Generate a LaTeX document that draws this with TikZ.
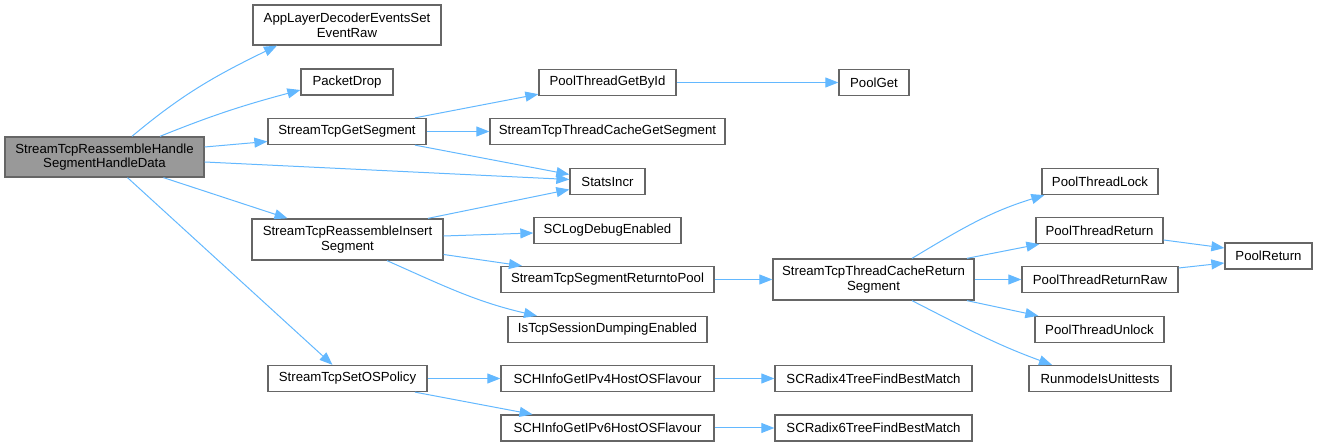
\documentclass[tikz,border=0pt]{standalone}
\usepackage{fontspec}
\setmainfont{Liberation Sans}
\usetikzlibrary{arrows.meta}
\definecolor{edgeblue}{HTML}{63B8FF}
\definecolor{boxgray}{HTML}{666666}
\definecolor{mainfill}{HTML}{999999}
\begin{document}
\begin{tikzpicture}[x=1pt,y=1pt]
        \tikzstyle{fn}=[rectangle, draw=boxgray, line width=1.3pt, fill=white, inner sep=0pt, minimum height=26pt, align=center, font=\fontsize{13.2}{14.8}\selectfont]
        \tikzstyle{call}=[draw=edgeblue, line width=1pt, -{Triangle[length=13pt,width=10pt]}]
        \useasboundingbox (0,0) rectangle (1317,446);

        \node[fn, fill=mainfill, minimum width=199pt, minimum height=40pt] (main) at (104.5,289) {StreamTcpReassembleHandle\\SegmentHandleData};

        \node[fn, minimum width=188pt, minimum height=40pt] (appl) at (347,421) {AppLayerDecoderEventsSet\\EventRaw};
        \node[fn, minimum width=92pt]  (pdrop)  at (347,364)   {PacketDrop};
        \node[fn, minimum width=158pt] (getseg) at (347,314.5) {StreamTcpGetSegment};
        \node[fn, minimum width=191pt, minimum height=41pt] (insseg) at (347.5,206.5) {StreamTcpReassembleInsert\\Segment};
        \node[fn, minimum width=159pt] (setos)  at (347.5,67.5) {StreamTcpSetOSPolicy};

        \node[fn, minimum width=137pt] (pgetbyid) at (607.5,363.5) {PoolThreadGetById};
        \node[fn, minimum width=235pt] (tcgetseg) at (607.5,314.5) {StreamTcpThreadCacheGetSegment};
        \node[fn, minimum width=75pt]  (stats)    at (607.5,264.5) {StatsIncr};
        \node[fn, minimum width=147pt] (sclog)    at (607.5,215.5) {SCLogDebugEnabled};
        \node[fn, minimum width=213pt] (retpool)  at (607.5,166.5) {StreamTcpSegmentReturntoPool};
        \node[fn, minimum width=199pt] (dump)     at (607.5,116.5) {IsTcpSessionDumpingEnabled};
        \node[fn, minimum width=213pt] (ipv4)     at (607.5,67.5)  {SCHInfoGetIPv4HostOSFlavour};
        \node[fn, minimum width=213pt] (ipv6)     at (607.5,18)    {SCHInfoGetIPv6HostOSFlavour};

        \node[fn, minimum width=70pt]  (poolget) at (874,363.5) {PoolGet};
        \node[fn, minimum width=201pt, minimum height=41pt] (tcret) at (873.5,166.5) {StreamTcpThreadCacheReturn\\Segment};
        \node[fn, minimum width=197pt] (radix4)  at (873.5,67.5) {SCRadix4TreeFindBestMatch};
        \node[fn, minimum width=197pt] (radix6)  at (873.5,18)   {SCRadix6TreeFindBestMatch};

        \node[fn, minimum width=116pt] (lock)   at (1100,264.5)   {PoolThreadLock};
        \node[fn, minimum width=127pt] (tret)   at (1099.5,215.5) {PoolThreadReturn};
        \node[fn, minimum width=156pt] (traw)   at (1100,166.5)   {PoolThreadReturnRaw};
        \node[fn, minimum width=129pt] (unlock) at (1099.5,116.5) {PoolThreadUnlock};
        \node[fn, minimum width=142pt] (unit)   at (1100,67.5)    {RunmodeIsUnittests};

        \node[fn, minimum width=87pt] (poolret) at (1268.5,190) {PoolReturn};

        % calls from the main function
        \draw[call] ([xshift=27.5]main.north) to[out=40,in=206] ([xshift=-70]appl.south);
        \draw[call] ([xshift=55.5]main.north) to[out=22,in=195] ([yshift=-8]pdrop.west);
        \draw[call] ([yshift=10]main.east) -- ([yshift=-10]getseg.west);
        \draw[call] ([yshift=-5]main.east) -- ([yshift=2]stats.west);
        \draw[call] ([xshift=59]main.south) -- ([xshift=-60]insseg.north);
        \draw[call] ([xshift=23]main.south) -- ([xshift=-15]setos.north);

        \draw[call] ([xshift=68]getseg.north) -- ([yshift=2]pgetbyid.south west);
        \draw[call] (getseg.east) -- (tcgetseg.west);
        \draw[call] ([xshift=68]getseg.south) -- ([yshift=7]stats.west);
        \draw[call] ([xshift=80.5]insseg.north) -- ([yshift=-8]stats.west);
        \draw[call] ([yshift=3.5]insseg.east) -- ([yshift=-2.5]sclog.west);
        \draw[call] ([yshift=-15]insseg.east) -- ([xshift=-85.5]retpool.north);
        \draw[call] ([xshift=39.5]insseg.south) to[out=-24,in=167] ([xshift=-70.5]dump.north);
        \draw[call] (pgetbyid.east) -- (poolget.west);
        \draw[call] (retpool.east) -- (tcret.west);

        \draw[call] ([xshift=38.5]tcret.north) to[out=31,in=197] ([xshift=3]lock.south west);
        \draw[call] ([xshift=93.5]tcret.north) -- ([xshift=4]tret.south west);
        \draw[call] (tcret.east) -- (traw.west);
        \draw[call] ([xshift=93.5]tcret.south) -- ([xshift=4]unlock.north west);
        \draw[call] ([xshift=38.5]tcret.south) to[out=-27,in=160] ([xshift=-48]unit.north);
        \draw[call] ([yshift=-9.5]tret.east) -- ([yshift=8]poolret.west);
        \draw[call] ([yshift=11.5]traw.east) -- ([yshift=-7]poolret.west);

        \draw[call] (setos.east) -- (ipv4.west);
        \draw[call] ([xshift=67.5]setos.south) -- ([xshift=-75]ipv6.north);
        \draw[call] (ipv4.east) -- (radix4.west);
        \draw[call] (ipv6.east) -- (radix6.west);
    \end{tikzpicture}
\end{document}
